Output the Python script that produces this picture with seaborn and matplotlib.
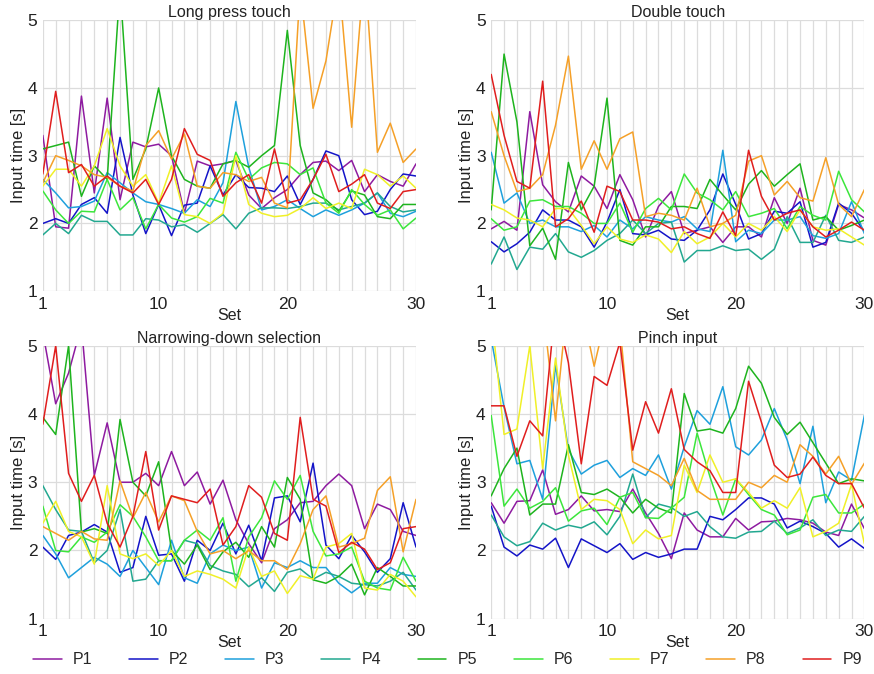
import numpy as np
import pandas as pd
import seaborn as sns
import matplotlib.pyplot as plt
from matplotlib.ticker import MultipleLocator

sets = list(range(1, 31))
participants = ["P1", "P2", "P3", "P4", "P5", "P6", "P7", "P8", "P9"]
colors = ["#8E1BA0", "#1414C8", "#1EA0DC", "#22A890", "#1EB41E",
          "#3CE63C", "#F0F028", "#F5A028", "#E01E1E"]
titles = ["Long press touch", "Double touch", "Narrowing-down selection", "Pinch input"]

# Long press touch
long_press = {
    "P1": [3.3, 1.95, 1.93, 3.88, 2.45, 3.85, 2.35, 3.2, 3.13, 3.17, 3.0, 2.15, 2.92, 2.85, 2.88,
           2.93, 2.42, 2.22, 2.38, 2.5, 2.72, 2.9, 2.92, 2.78, 2.93, 2.47, 2.72, 2.62, 2.55, 2.88],
    "P2": [2.0, 2.07, 2.0, 2.28, 2.38, 2.15, 3.27, 2.42, 1.85, 2.28, 1.82, 2.27, 2.3, 2.85, 2.42,
           2.72, 2.53, 2.52, 2.47, 2.7, 2.28, 2.65, 3.07, 3.0, 2.35, 2.13, 2.18, 2.5, 2.73, 2.7],
    "P3": [2.65, 2.45, 2.23, 2.25, 2.33, 2.75, 2.6, 2.45, 2.32, 2.28, 2.22, 2.15, 2.35, 2.25, 2.6,
           3.8, 2.83, 2.2, 2.25, 2.35, 2.22, 2.1, 2.2, 2.12, 2.2, 2.3, 2.45, 2.15, 2.1, 2.18],
    "P4": [1.83, 2.0, 1.85, 2.12, 2.03, 2.03, 1.83, 1.83, 2.07, 2.05, 1.95, 1.98, 1.87, 2.0, 2.13,
           1.92, 2.15, 2.23, 2.23, 2.22, 2.25, 2.3, 2.3, 2.2, 2.25, 2.3, 2.45, 2.25, 2.17, 2.2],
    "P5": [3.1, 3.15, 3.2, 2.4, 2.85, 2.65, 5.5, 2.65, 3.1, 4.0, 3.0, 2.65, 2.55, 2.52, 2.88,
           2.93, 2.83, 3.0, 3.15, 4.85, 3.15, 2.45, 2.35, 2.18, 2.48, 2.42, 2.1, 2.07, 2.28, 2.28],
    "P6": [2.48, 2.2, 2.0, 2.18, 2.17, 2.65, 2.2, 2.38, 1.92, 2.28, 2.08, 2.02, 2.1, 2.37, 2.3,
           3.05, 2.65, 2.82, 2.9, 2.88, 2.72, 2.82, 2.3, 2.15, 2.5, 2.28, 2.12, 2.2, 1.92, 2.08],
    "P7": [2.55, 2.8, 2.8, 2.55, 2.85, 3.4, 2.85, 2.55, 2.72, 2.3, 2.85, 2.13, 2.1, 2.0, 2.15,
           3.0, 2.28, 2.15, 2.1, 2.12, 2.22, 2.38, 2.22, 2.3, 2.22, 2.8, 2.72, 2.55, 2.7, 2.52],
    "P8": [2.6, 3.0, 2.93, 2.85, 2.72, 2.68, 2.55, 2.48, 3.15, 3.37, 2.95, 3.32, 2.55, 2.52, 2.75,
           2.72, 2.62, 2.68, 2.3, 2.23, 5.5, 3.7, 4.4, 5.6, 3.42, 5.8, 3.05, 3.48, 2.9, 3.1],
    "P9": [2.73, 3.95, 2.75, 2.87, 2.55, 2.7, 2.55, 2.45, 2.65, 2.28, 2.65, 3.4, 3.02, 2.93, 2.4,
           2.6, 2.72, 2.3, 3.1, 2.3, 2.35, 2.65, 3.02, 2.47, 2.58, 2.72, 2.3, 2.22, 2.47, 2.5],
}

# Double touch
double_touch = {
    "P1": [1.92, 2.03, 1.9, 3.65, 2.57, 2.32, 2.17, 2.7, 2.55, 2.22, 2.72, 2.35, 1.8, 2.25, 2.47,
           1.85, 1.9, 1.95, 1.72, 1.95, 1.95, 1.8, 2.38, 2.0, 2.52, 1.75, 1.68, 2.28, 2.2, 2.08],
    "P2": [1.73, 1.58, 1.7, 1.87, 2.2, 2.05, 2.05, 1.95, 1.65, 2.02, 2.5, 1.85, 1.83, 1.9, 1.77,
           1.75, 1.9, 2.2, 2.73, 2.28, 1.77, 1.85, 2.18, 2.15, 2.32, 1.65, 1.72, 2.3, 2.15, 1.88],
    "P3": [3.05, 2.3, 2.45, 2.0, 2.05, 1.95, 1.95, 1.88, 1.97, 1.8, 2.05, 1.92, 2.1, 2.05, 2.02,
           2.1, 1.92, 1.88, 3.08, 1.73, 1.9, 1.85, 2.05, 2.05, 2.1, 1.82, 1.78, 1.85, 2.32, 1.85],
    "P4": [1.4, 1.8, 1.32, 1.65, 1.62, 1.85, 1.58, 1.5, 1.6, 1.75, 1.85, 2.05, 1.85, 2.0, 2.02,
           1.43, 1.6, 1.6, 1.67, 1.6, 1.62, 1.47, 1.62, 2.1, 1.72, 1.72, 2.12, 1.75, 1.72, 1.8],
    "P5": [2.2, 4.5, 3.5, 1.67, 1.93, 1.47, 2.9, 2.2, 2.55, 3.85, 1.75, 1.68, 1.95, 1.95, 2.25,
           2.25, 2.22, 2.65, 2.42, 2.2, 2.58, 2.78, 2.55, 2.72, 2.88, 2.05, 2.1, 1.9, 1.97, 2.05],
    "P6": [2.07, 1.9, 1.95, 2.33, 2.35, 2.25, 2.25, 2.15, 2.0, 2.0, 2.3, 1.87, 2.22, 2.37, 2.2,
           2.73, 2.45, 2.35, 2.2, 2.47, 2.1, 2.15, 2.22, 1.92, 2.25, 2.12, 2.05, 2.77, 2.35, 2.17],
    "P7": [2.28, 2.2, 2.08, 2.05, 1.95, 2.22, 2.22, 1.97, 1.7, 1.95, 1.77, 1.72, 1.83, 1.77, 1.57,
           1.88, 1.7, 1.8, 2.0, 1.8, 2.0, 1.9, 2.1, 1.88, 2.2, 1.95, 1.9, 1.92, 1.8, 1.68],
    "P8": [3.65, 3.0, 2.47, 2.52, 2.72, 3.45, 4.47, 2.8, 3.22, 2.8, 3.25, 3.35, 2.1, 2.15, 2.12,
           2.05, 2.52, 1.95, 2.0, 2.12, 2.92, 3.0, 2.42, 2.62, 2.38, 2.33, 2.97, 2.28, 2.1, 2.5],
    "P9": [4.2, 3.3, 2.62, 2.52, 4.1, 1.95, 2.07, 2.33, 1.87, 2.55, 2.47, 2.05, 2.05, 2.02, 1.92,
           1.95, 1.85, 1.78, 2.17, 1.82, 3.08, 2.4, 2.05, 2.15, 2.2, 1.95, 1.8, 1.9, 2.02, 1.9],
}

# Narrowing-down selection
narrowing = {
    "P1": [5.2, 4.15, 4.6, 5.3, 3.1, 3.87, 3.0, 3.0, 3.13, 2.95, 3.45, 2.95, 3.15, 2.68, 3.03,
           2.45, 2.1, 1.82, 2.32, 2.45, 2.7, 2.72, 2.95, 3.12, 2.95, 2.32, 2.68, 2.6, 2.28, 2.22],
    "P2": [2.05, 1.87, 2.22, 2.27, 2.38, 2.27, 1.68, 1.75, 2.5, 1.93, 1.95, 1.55, 2.15, 2.0, 2.4,
           1.95, 2.37, 1.85, 2.77, 2.8, 2.42, 3.28, 2.08, 1.88, 2.22, 1.98, 1.68, 1.88, 2.7, 2.05],
    "P3": [2.22, 1.95, 1.6, 1.75, 1.9, 1.8, 1.62, 2.0, 1.75, 1.5, 2.15, 1.6, 1.52, 1.95, 2.08,
           2.0, 2.05, 1.45, 1.82, 1.75, 1.85, 1.75, 1.75, 1.52, 1.38, 1.52, 1.52, 1.75, 1.65, 1.62],
    "P4": [2.95, 2.6, 2.3, 2.28, 1.82, 2.0, 2.6, 1.55, 1.58, 1.85, 1.85, 2.15, 2.1, 1.78, 1.7,
           1.65, 1.47, 1.6, 1.4, 1.68, 1.73, 1.58, 1.68, 1.62, 1.52, 1.5, 1.48, 1.55, 1.68, 1.42],
    "P5": [3.95, 3.7, 5.0, 2.27, 2.32, 2.25, 3.92, 3.0, 2.8, 3.3, 2.0, 1.8, 2.08, 1.72, 1.98,
           2.12, 1.9, 2.35, 2.05, 3.07, 2.75, 1.57, 1.52, 1.62, 1.8, 1.35, 1.75, 1.62, 1.48, 1.48],
    "P6": [2.65, 2.0, 1.98, 2.2, 2.12, 2.27, 2.67, 2.5, 2.2, 1.85, 1.85, 2.15, 2.3, 2.15, 2.48,
           1.55, 2.2, 2.48, 3.02, 2.75, 3.1, 2.28, 1.92, 1.95, 2.05, 1.55, 1.45, 1.42, 1.9, 1.55],
    "P7": [2.4, 2.72, 2.28, 2.2, 1.8, 2.95, 1.95, 1.88, 1.95, 1.78, 2.0, 1.62, 1.7, 1.65, 1.58,
           1.45, 2.05, 1.62, 1.7, 1.37, 1.63, 1.58, 2.05, 2.1, 2.25, 1.45, 1.42, 1.65, 1.55, 1.32],
    "P8": [2.35, 2.25, 2.15, 2.28, 2.17, 2.15, 3.02, 2.48, 2.85, 2.42, 2.8, 2.73, 2.28, 1.95, 2.0,
           1.88, 2.0, 1.85, 1.85, 1.72, 2.1, 2.6, 2.8, 2.05, 2.1, 2.18, 2.88, 3.08, 1.98, 2.75],
    "P9": [3.85, 5.0, 3.13, 2.72, 3.1, 2.4, 2.05, 2.5, 3.45, 2.3, 2.8, 2.75, 2.7, 2.9, 2.08,
           2.35, 2.95, 2.78, 2.25, 2.15, 3.95, 2.75, 2.65, 1.97, 2.12, 2.02, 1.72, 1.82, 2.32, 2.35],
}

# Pinch input
pinch = {
    "P1": [2.7, 2.4, 2.72, 2.73, 3.18, 2.53, 2.6, 2.8, 2.58, 2.6, 2.57, 2.9, 2.55, 2.25, 1.88,
           2.55, 2.3, 2.2, 2.2, 2.47, 2.3, 2.42, 2.43, 2.47, 2.45, 2.4, 2.27, 2.22, 2.68, 2.32],
    "P2": [2.65, 2.05, 1.92, 2.08, 2.02, 2.18, 1.75, 2.17, 2.07, 1.97, 2.1, 1.87, 1.97, 1.9, 1.95,
           2.02, 2.02, 2.5, 2.45, 2.6, 2.77, 2.77, 2.68, 2.33, 2.43, 2.35, 2.25, 2.05, 2.17, 2.03],
    "P3": [5.1, 4.1, 3.27, 3.32, 2.75, 4.72, 3.48, 3.12, 3.25, 3.32, 3.07, 3.2, 3.1, 3.4, 2.9,
           3.52, 4.05, 3.85, 4.4, 3.52, 3.4, 3.62, 4.08, 3.62, 2.98, 3.82, 2.7, 3.15, 3.03, 3.98],
    "P4": [2.52, 2.2, 2.07, 2.13, 2.4, 2.3, 2.37, 2.33, 2.42, 2.23, 2.5, 3.12, 2.48, 2.68, 2.63,
           2.5, 2.57, 2.35, 2.2, 2.18, 2.27, 2.28, 2.43, 2.25, 2.33, 2.45, 2.22, 2.3, 2.28, 2.5],
    "P5": [2.8, 3.2, 3.5, 2.52, 2.68, 2.68, 3.55, 2.85, 2.82, 2.9, 2.78, 2.55, 2.75, 2.62, 2.55,
           4.3, 3.75, 3.78, 3.72, 4.08, 4.7, 4.45, 3.95, 3.7, 3.88, 3.58, 3.28, 2.98, 3.05, 3.02],
    "P6": [3.98, 2.65, 2.9, 2.62, 2.72, 2.92, 2.43, 2.58, 2.62, 2.38, 2.78, 2.85, 2.48, 2.47, 2.62,
           2.78, 3.72, 3.08, 2.52, 3.05, 2.82, 2.6, 2.52, 2.23, 2.3, 2.78, 2.82, 2.55, 2.55, 2.68],
    "P7": [5.5, 3.7, 3.78, 5.0, 3.2, 4.82, 3.4, 2.6, 2.75, 2.73, 2.6, 2.1, 2.3, 2.17, 2.22,
           3.25, 2.85, 3.4, 3.0, 3.05, 2.85, 2.62, 2.73, 2.62, 2.92, 2.2, 2.28, 2.4, 2.97, 2.1],
    "P8": [6.0, 5.8, 6.2, 5.7, 5.6, 3.9, 5.8, 5.6, 4.7, 5.5, 5.3, 3.3, 3.2, 3.1, 2.95,
           3.35, 2.88, 2.75, 2.75, 2.75, 3.0, 2.92, 3.1, 3.0, 3.55, 3.38, 3.12, 3.38, 2.97, 3.28],
    "P9": [4.12, 4.12, 3.38, 3.9, 3.68, 5.6, 4.75, 3.27, 4.55, 4.42, 5.05, 3.47, 4.18, 3.72, 4.37,
           3.48, 3.3, 3.17, 2.85, 2.85, 4.48, 3.88, 3.25, 3.07, 3.12, 3.37, 3.1, 2.98, 2.98, 2.62],
}

panels = [long_press, double_touch, narrowing, pinch]

sns.set_theme(style="whitegrid")
plt.rcParams['font.family'] = ['Liberation Sans', 'DejaVu Sans']

fig = plt.figure(figsize=(8.74, 6.74), dpi=100)
boxes = [[0.049, 0.568, 0.427, 0.402], [0.562, 0.568, 0.427, 0.402],
         [0.049, 0.082, 0.427, 0.405], [0.562, 0.082, 0.427, 0.405]]

for i, data in enumerate(panels):
    ax = fig.add_axes(boxes[i])
    rows = []
    for p in participants:
        for s, v in zip(sets, data[p]):
            rows.append({"Set": s, "time": v, "Participant": p})
    df = pd.DataFrame(rows)
    sns.lineplot(data=df, x="Set", y="time", hue="Participant", hue_order=participants,
                 palette=colors, linewidth=1.1, ax=ax, legend=(i == 0))
    ax.set_xlim(1, 30)
    ax.set_ylim(1, 5)
    ax.set_xticks([1, 10, 20, 30])
    ax.xaxis.set_minor_locator(MultipleLocator(1))
    ax.set_yticks([1, 2, 3, 4, 5])
    ax.grid(which="both", color="#dcdcdc", linewidth=0.9)
    for sp in ax.spines.values():
        sp.set_visible(False)
    ax.tick_params(axis="both", labelsize=12.5, pad=-2, colors="#222222")
    ax.set_title(titles[i], fontsize=11.5, pad=2, color="#222222")
    ax.set_xlabel("Set", fontsize=11.5, labelpad=-3, color="#222222")
    ax.set_ylabel("Input time [s]", fontsize=12, labelpad=1, color="#222222")
    if i == 0:
        handles, labels = ax.get_legend_handles_labels()
        ax.get_legend().remove()

fig.legend(handles, labels, loc="center", bbox_to_anchor=(0.512, 0.021), ncol=9,
           frameon=False, handlelength=1.8, handletextpad=0.7, columnspacing=2.3,
           prop={"family": ["Liberation Sans Narrow", "Liberation Sans"], "size": 11.5})

fig.savefig("out.png", dpi=100)
